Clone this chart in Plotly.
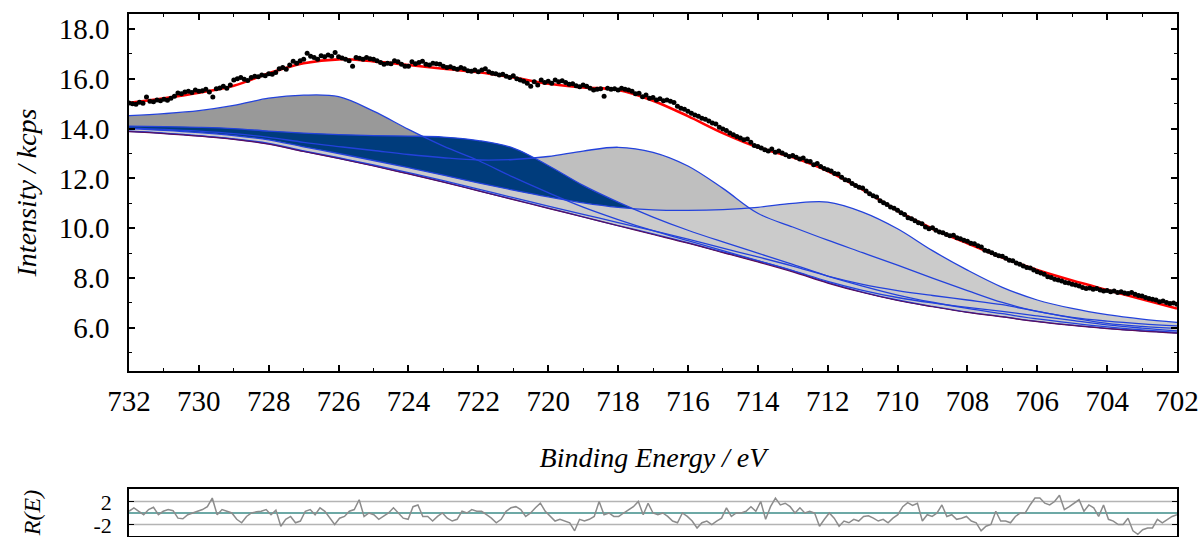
import numpy as np
import plotly.graph_objects as go

# ---------------- data ----------------
comp_energy = list(range(732, 701, -1))          # eV, 31 points, fit-component grid

background = [13.88, 13.80, 13.70, 13.57, 13.38, 13.08, 12.80, 12.50, 12.18, 11.85, 11.50,
              11.15, 10.80, 10.45, 10.10, 9.75, 9.40, 9.02, 8.65, 8.25, 7.80, 7.42, 7.10,
              6.85, 6.62, 6.44, 6.25, 6.10, 5.97, 5.87, 5.79]

comp_sat_high = [14.52, 14.60, 14.72, 14.93, 15.22, 15.34, 15.28, 14.70, 13.97, 13.30, 12.72,
                 12.05, 11.43, 10.85, 10.35, 9.90, 9.50, 9.10, 8.70, 8.29, 7.83, 7.44, 7.12,
                 6.86, 6.63, 6.45, 6.26, 6.11, 5.98, 5.88, 5.80]

comp_2p12 = [14.10, 14.08, 14.05, 14.00, 13.90, 13.82, 13.76, 13.72, 13.70, 13.66, 13.52,
             13.22, 12.52, 11.72, 11.05, 10.45, 9.92, 9.45, 9.00, 8.55, 8.08, 7.68, 7.32,
             7.03, 6.78, 6.57, 6.36, 6.19, 6.04, 5.92, 5.82]

comp_sat_low = [14.02, 13.97, 13.90, 13.80, 13.65, 13.45, 13.28, 13.12, 12.96, 12.83, 12.74,
                12.76, 12.88, 13.10, 13.25, 13.05, 12.50, 11.60, 10.60, 10.05, 9.52, 9.02, 8.52,
                8.00, 7.50, 7.02, 6.66, 6.42, 6.27, 6.16, 6.08]

comp_2p32 = [14.00, 13.93, 13.84, 13.72, 13.55, 13.27, 13.00, 12.72, 12.43, 12.13, 11.82,
             11.53, 11.26, 11.02, 10.84, 10.74, 10.72, 10.75, 10.84, 11.00, 11.05, 10.65, 9.98,
             9.10, 8.32, 7.63, 7.12, 6.78, 6.53, 6.35, 6.22]

comp_small_a = [13.90, 13.82, 13.72, 13.59, 13.41, 13.11, 12.83, 12.54, 12.23, 11.91, 11.57,
                11.23, 10.89, 10.56, 10.23, 9.90, 9.56, 9.20, 8.85, 8.48, 8.08, 7.75, 7.50,
                7.30, 7.12, 6.93, 6.66, 6.40, 6.18, 6.06, 5.98]

comp_small_b = [13.89, 13.81, 13.71, 13.58, 13.39, 13.09, 12.81, 12.51, 12.19, 11.86, 11.51,
                11.16, 10.81, 10.46, 10.11, 9.77, 9.42, 9.05, 8.69, 8.30, 7.87, 7.51, 7.22,
                7.00, 6.82, 6.66, 6.48, 6.30, 6.12, 5.99, 5.88]

envelope = [15.04, 15.22, 15.44, 15.72, 16.22, 16.62, 16.78, 16.70, 16.55, 16.40, 16.26,
            16.05, 15.80, 15.65, 15.55, 15.12, 14.50, 13.82, 13.25, 12.85, 12.30, 11.55, 10.70,
            9.98, 9.40, 8.82, 8.32, 7.90, 7.52, 7.15, 6.78]

data_energy = [round(732 - 0.1 * i, 1) for i in range(301)]
data_counts = [
    15.03, 15.00, 14.98, 15.06, 15.02, 15.27, 15.10, 15.08, 15.15, 15.12,
    15.18, 15.14, 15.22, 15.30, 15.43, 15.40, 15.47, 15.50, 15.45, 15.55,
    15.50, 15.52, 15.58, 15.47, 15.27, 15.60, 15.63, 15.70, 15.62, 15.75,
    15.95, 16.00, 16.05, 15.98, 15.93, 16.05, 16.10, 16.08, 16.15, 16.12,
    16.20, 16.18, 16.25, 16.40, 16.45, 16.38, 16.55, 16.70, 16.62, 16.72,
    16.78, 17.02, 16.90, 16.85, 16.78, 16.92, 16.88, 16.95, 16.90, 17.05,
    16.88, 16.83, 16.78, 16.72, 16.50, 16.85, 16.82, 16.78, 16.85, 16.80,
    16.78, 16.72, 16.65, 16.58, 16.62, 16.60, 16.72, 16.68, 16.58, 16.50,
    16.50, 16.68, 16.60, 16.65, 16.70, 16.58, 16.55, 16.62, 16.60, 16.58,
    16.50, 16.45, 16.48, 16.42, 16.38, 16.45, 16.40, 16.32, 16.30, 16.35,
    16.28, 16.35, 16.40, 16.28, 16.22, 16.20, 16.15, 16.18, 16.10, 16.05,
    16.12, 16.00, 15.95, 15.90, 15.82, 15.70, 15.88, 15.75, 15.95, 15.85,
    15.90, 15.82, 15.95, 15.88, 15.92, 15.85, 15.78, 15.80, 15.72, 15.68,
    15.75, 15.70, 15.62, 15.55, 15.58, 15.60, 15.30, 15.62, 15.58, 15.60,
    15.55, 15.62, 15.58, 15.55, 15.50, 15.40, 15.42, 15.28, 15.35, 15.22,
    15.25, 15.15, 15.20, 15.12, 15.15, 15.10, 15.05, 14.90, 14.82, 14.78,
    14.70, 14.62, 14.55, 14.50, 14.42, 14.38, 14.30, 14.22, 14.18, 14.05,
    13.98, 13.92, 13.82, 13.75, 13.68, 13.62, 13.55, 13.58, 13.45, 13.32,
    13.28, 13.22, 13.15, 13.10, 13.18, 13.05, 13.10, 13.02, 12.95, 12.88,
    12.92, 12.85, 12.78, 12.82, 12.70, 12.68, 12.55, 12.60, 12.48, 12.40,
    12.35, 12.30, 12.20, 12.18, 12.05, 11.95, 11.92, 11.80, 11.72, 11.65,
    11.62, 11.50, 11.38, 11.30, 11.25, 11.10, 11.02, 10.95, 10.85, 10.80,
    10.72, 10.62, 10.55, 10.42, 10.38, 10.30, 10.22, 10.18, 10.05, 9.98,
    10.02, 9.92, 9.85, 9.82, 9.75, 9.70, 9.72, 9.62, 9.58, 9.52,
    9.48, 9.40, 9.38, 9.30, 9.25, 9.12, 9.08, 9.02, 8.95, 8.90,
    8.88, 8.80, 8.72, 8.70, 8.60, 8.55, 8.48, 8.42, 8.40, 8.32,
    8.25, 8.20, 8.15, 8.05, 8.02, 7.95, 7.92, 7.88, 7.82, 7.80,
    7.75, 7.72, 7.68, 7.62, 7.58, 7.60, 7.55, 7.58, 7.52, 7.48,
    7.50, 7.45, 7.48, 7.42, 7.45, 7.40, 7.38, 7.42, 7.35, 7.30,
    7.28, 7.22, 7.18, 7.15, 7.12, 7.05, 7.08, 7.02, 6.98, 7.00,
    6.95]

residual = [
    0.3, 0.9, 0.3, -0.3, 0.6, 1.0, -0.3, 0.3, 0.6, 0.4, -0.9, -1.0, -0.3, 0.0, 0.3, 0.6,
    1.1, 2.6, -0.3, 0.6, 0.3, 0.0, -1.1, -1.7, -0.6, 0.0, 0.2, 0.3, 0.6, -0.3, 0.5, -2.3,
    -1.1, -0.6, -1.7, -1.4, 0.3, 0.6, -0.3, 0.9, 0.3, -0.9, -2.0, -0.9, -0.6, 0.3, 0.6, 2.3,
    -0.6, 0.0, -0.3, -1.1, -0.6, 0.0, 0.9,
    0.0, -0.9, -1.1, 1.1, 1.4, -0.6, -0.6, -1.4, -0.6, 0.0, -0.9, -1.4, -1.1, 0.3, 0.0, 0.6,
    0.3, 0.3, -0.3, -0.9, -1.7, -1.1, 0.3, 0.9, 1.1, 0.6, -0.6, 0.0, 0.9, 1.7, 0.3, -0.6,
    -1.4, -1.1, -1.4, -1.7, -3.1, -1.1, -1.4, -1.1, -0.6, 2.0, -0.3, 0.0, -0.6, -0.6, 0.0,
    0.6, 1.1, 2.0, -0.3, 1.7, 0.0, -0.3, 0.0, -0.6, -1.4, -1.7, 0.0, -0.6, -1.4, -2.6, -1.7,
    -1.4, -2.0, -1.4, -0.9, 0.9, -0.6, 0.0, 0.0, 0.3, 1.1, 0.3, 2.0, -1.1, 1.1, 2.6, 1.4,
    1.7, 1.1, 0.0,
    0.9, 0.0, 0.3, 0.0, -2.3, -1.1, 0.0, -0.9, -2.3, -1.4, -1.7, -1.1, -1.4, -0.6, -0.5,
    -0.9, -1.4, -1.1, -1.7, -0.9, -0.3, 1.1, 1.8, 1.3, 1.7, -1.4, -0.3, -0.6, 0.0, 1.4,
    -0.6, -0.3, -1.1, -0.9, -0.6, -1.4, -1.7, -3.1, -2.3, -2.0, 0.3, -1.4, -1.4, -1.7, -0.6,
    0.0, 0.0, 1.4, 2.6, 2.6, 1.7, 1.4, 2.0, 3.1, 0.6, 1.1, 1.7, 2.3, 0.3, 1.4, 0.9, -0.6,
    1.4, -1.1, -1.4, -2.0, -2.0, -0.9, -3.1, -3.7, -2.9, -2.6, -2.6, -1.1, -1.7, -1.1, -0.6,
    -0.3]
residual_energy = list(np.linspace(732, 702, len(residual)))

x_ticks = [732, 730, 728, 726, 724, 722, 720, 718, 716, 714, 712, 710, 708, 706, 704, 702]
y_ticks = [6, 8, 10, 12, 14, 16, 18]
res_ticks = [2, -2]

# ---------------- styling ----------------
FONT = "Liberation Serif"
LINE_BLUE = "#2342dc"
components = [  # (values, fill colour) in drawing order
    (comp_sat_high, "#999999"),
    (comp_sat_low, "#bfbfbf"),
    (comp_2p12, "#003c7c"),
    (comp_2p32, "#cbcbcb"),
    (comp_small_a, "#cbcbcb"),
    (comp_small_b, "#cbcbcb"),
]

fig = go.Figure()

# fills between background and each component
for vals, col in components:
    fig.add_trace(go.Scatter(x=comp_energy, y=background, mode="lines",
                             line=dict(width=0, shape="spline"), showlegend=False,
                             hoverinfo="skip"))
    fig.add_trace(go.Scatter(x=comp_energy, y=vals, mode="lines", fill="tonexty",
                             fillcolor=col, line=dict(width=0, shape="spline"),
                             showlegend=False, hoverinfo="skip"))

# component outlines
for vals, _ in components:
    fig.add_trace(go.Scatter(x=comp_energy, y=vals, mode="lines",
                             line=dict(color=LINE_BLUE, width=1.3, shape="spline"),
                             showlegend=False))

# background line
fig.add_trace(go.Scatter(x=comp_energy, y=background, mode="lines",
                         line=dict(color="#5a0f5f", width=1.2, shape="spline"),
                         showlegend=False))
# envelope
fig.add_trace(go.Scatter(x=comp_energy, y=envelope, mode="lines",
                         line=dict(color="#ff0000", width=2.6, shape="spline"),
                         showlegend=False))
# measured data
fig.add_trace(go.Scatter(x=data_energy, y=data_counts, mode="markers",
                         marker=dict(color="black", size=5), showlegend=False))

# residual
fig.add_trace(go.Scatter(x=residual_energy, y=residual, mode="lines",
                         line=dict(color="#8c8c8c", width=1.5),
                         xaxis="x2", yaxis="y2", showlegend=False))

shapes = []
for v, c in [(2, "#b4b4b4"), (-2, "#b4b4b4"), (0, "#3d8c88")]:
    shapes.append(dict(type="line", xref="x2 domain", yref="y2", x0=0, x1=1, y0=v, y1=v,
                       line=dict(color=c, width=1.3), layer="below"))

tickfont = dict(family=FONT, size=29, color="black")
titlefont = dict(family=FONT, size=28, color="black", style="italic")

fig.update_layout(
    width=1202, height=537,
    margin=dict(l=129, r=25, t=14, b=1, autoexpand=False),
    paper_bgcolor="white", plot_bgcolor="white",
    shapes=shapes,
    xaxis=dict(domain=[0, 1], anchor="y", range=[732, 702], automargin=False,
               tickvals=x_ticks, ticktext=[str(v) for v in x_ticks],
               ticks="inside", ticklen=6, tickwidth=1.5, tickcolor="black",
               minor=dict(dtick=1, tick0=0, ticks="inside", ticklen=3, tickwidth=1.2,
                          tickcolor="black"),
               showline=True, linewidth=1.5, linecolor="black", mirror="allticks",
               showgrid=False, zeroline=False, tickfont=tickfont, ticklabelstandoff=3,
               title=dict(text="Binding Energy / eV", font=titlefont, standoff=32)),
    yaxis=dict(domain=[0.3161, 1], anchor="x", range=[4.27, 18.6], automargin=False,
               tickvals=y_ticks, ticktext=[f"{v:.1f}" for v in y_ticks],
               ticks="inside", ticklen=6, tickwidth=1.5, tickcolor="black",
               minor=dict(dtick=1, tick0=0, ticks="inside", ticklen=3, tickwidth=1.2,
                          tickcolor="black"),
               showline=True, linewidth=1.5, linecolor="black", mirror="allticks",
               showgrid=False, zeroline=False, tickfont=tickfont, ticklabelstandoff=12,
               title=dict(text="Intensity / kcps", font=titlefont, standoff=14)),
    xaxis2=dict(domain=[0, 1], anchor="y2", range=[732, 702], showticklabels=False,
                automargin=False,
                ticks="", showline=True, linewidth=1.5, linecolor="black", mirror=True,
                showgrid=False, zeroline=False),
    yaxis2=dict(domain=[0, 0.09], anchor="x2", range=[-4.0, 4.17], automargin=False,
                tickvals=res_ticks, ticktext=[str(v) for v in res_ticks],
                ticks="inside", ticklen=5, tickwidth=1.2, tickcolor="black",
                showline=True, linewidth=1.5, linecolor="black", mirror="allticks",
                showgrid=False, zeroline=False, ticklabeloverflow="allow",
                ticklabelshift=1,
                tickfont=dict(family=FONT, size=22, color="black"), ticklabelstandoff=11,
                title=dict(text="R(E)", font=dict(family=FONT, size=24, color="black",
                                                  style="italic"), standoff=46)),
)

fig.write_html("out.html")
